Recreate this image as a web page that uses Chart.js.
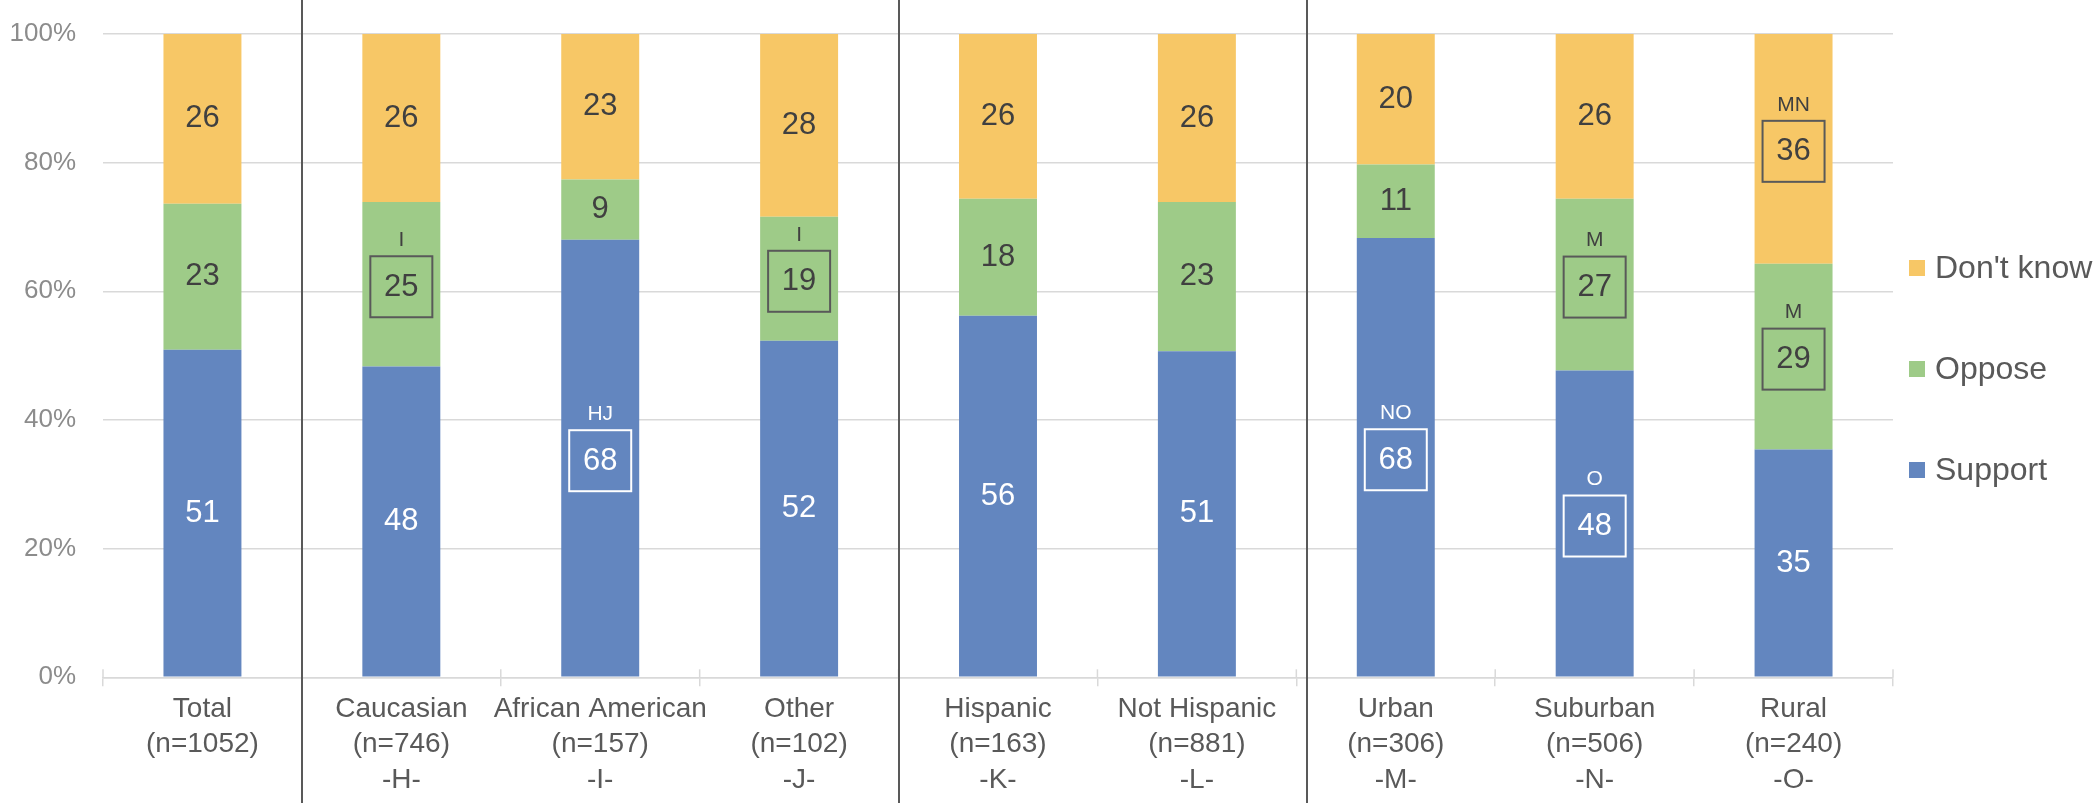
<!DOCTYPE html>
<html>
<head>
<meta charset="utf-8">
<script src="https://cdn.jsdelivr.net/npm/chart.js@4.4.1/dist/chart.umd.min.js"></script>
<style>
  html, body { margin: 0; padding: 0; background: #fff; }
</style>
</head>
<body>
<canvas id="surveyChart" width="2100" height="803"></canvas>
<script>
// categories (multi-line x labels)
const categories = [
    ['Total', '(n=1052)'],
    ['Caucasian', '(n=746)', '-H-'],
    ['African American', '(n=157)', '-I-'],
    ['Other', '(n=102)', '-J-'],
    ['Hispanic', '(n=163)', '-K-'],
    ['Not Hispanic', '(n=881)', '-L-'],
    ['Urban', '(n=306)', '-M-'],
    ['Suburban', '(n=506)', '-N-'],
    ['Rural', '(n=240)', '-O-']
];

// segment shares (%)
const support  = [50.9, 48.3, 68.0, 52.3, 56.2, 50.7, 68.3, 47.7, 35.4];
const oppose   = [22.7, 25.6,  9.4, 19.3, 18.2, 23.2, 11.4, 26.7, 28.9];
const dontKnow = [26.4, 26.1, 22.6, 28.4, 25.6, 26.1, 20.3, 25.6, 35.7];

// printed labels
const supportLabels  = [51, 48, 68, 52, 56, 51, 68, 48, 35];
const opposeLabels   = [23, 25, 9, 19, 18, 23, 11, 27, 29];
const dontKnowLabels = [26, 26, 23, 28, 26, 26, 20, 26, 36];

// significance letters (boxed values)
const supportSig  = ['', '', 'HJ', '', '', '', 'NO', 'O', ''];
const opposeSig   = ['', 'I', '', 'I', '', '', '', 'M', 'M'];
const dontKnowSig = ['', '', '', '', '', '', '', '', 'MN'];

const yTicks = [0, 20, 40, 60, 80, 100];

const FONT = '"Liberation Sans", Arial, sans-serif';

// value labels inside the segments, with boxes where a letter is given
const segmentLabels = {
    id: 'segmentLabels',
    afterDatasetsDraw(chart) {
        const ctx = chart.ctx;
        chart.data.datasets.forEach((ds, di) => {
            const meta = chart.getDatasetMeta(di);
            meta.data.forEach((bar, i) => {
                const cy = (bar.y + bar.base) / 2;
                const sig = ds.sigLetters[i];
                ctx.save();
                ctx.fillStyle = ds.labelColor;
                ctx.strokeStyle = ds.boxColor;
                ctx.textAlign = 'center';
                ctx.textBaseline = 'middle';
                if (sig) {
                    const by = cy + 2;
                    ctx.lineWidth = 2;
                    ctx.strokeRect(bar.x - 31, by - 30, 62, 61);
                    ctx.font = '31px ' + FONT;
                    ctx.fillText(ds.valueLabels[i], bar.x, by + 1);
                    ctx.font = '21px ' + FONT;
                    ctx.fillText(sig, bar.x, by - 46);
                } else {
                    ctx.font = '31px ' + FONT;
                    ctx.fillText(ds.valueLabels[i], bar.x, cy);
                }
                ctx.restore();
            });
        });
    }
};

// vertical group separators between category blocks + short ticks above the axis
const groupLines = {
    id: 'groupLines',
    afterDraw(chart) {
        const ctx = chart.ctx;
        const x = chart.scales.x;
        const area = chart.chartArea;
        ctx.save();
        ctx.strokeStyle = '#d9d9d9';
        ctx.lineWidth = 1.5;
        for (let i = 0; i <= chart.data.labels.length; i++) {
            const px = x.getPixelForValue(i - 0.5);
            ctx.beginPath();
            ctx.moveTo(px, area.bottom - 8);
            ctx.lineTo(px, area.bottom);
            ctx.stroke();
        }
        ctx.restore();

        [[0, 0], [3, 0], [5, 11]].forEach(([i, dx]) => {
            const px = Math.round(x.getPixelForValue(i + 0.5) + dx);
            ctx.save();
            ctx.strokeStyle = '#595959';
            ctx.lineWidth = 2;
            ctx.beginPath();
            ctx.moveTo(px, 0);
            ctx.lineTo(px, chart.height);
            ctx.stroke();
            ctx.restore();
        });
    }
};

// legend on the right, top item = last dataset
const sideLegend = {
    id: 'sideLegend',
    afterDraw(chart) {
        const ctx = chart.ctx;
        const area = chart.chartArea;
        const items = chart.data.datasets.slice().reverse();
        items.forEach((ds, k) => {
            const y = area.top + 234 + k * 101;
            ctx.save();
            ctx.fillStyle = ds.backgroundColor;
            ctx.fillRect(area.right + 16, y - 8, 16, 16);
            ctx.fillStyle = '#595959';
            ctx.font = '32px ' + FONT;
            ctx.textBaseline = 'middle';
            ctx.fillText(ds.label, area.right + 42, y + 1);
            ctx.restore();
        });
    }
};

const ctx = document.getElementById('surveyChart').getContext('2d');
const surveyChart = new Chart(ctx, {
    type: 'bar',
    data: {
        labels: categories,
        datasets: [
            {
                label: 'Support',
                data: support,
                backgroundColor: '#6386bf',
                valueLabels: supportLabels,
                sigLetters: supportSig,
                labelColor: '#ffffff',
                boxColor: '#ffffff'
            },
            {
                label: 'Oppose',
                data: oppose,
                backgroundColor: '#9ecb88',
                valueLabels: opposeLabels,
                sigLetters: opposeSig,
                labelColor: '#404040',
                boxColor: '#595959'
            },
            {
                label: "Don't know",
                data: dontKnow,
                backgroundColor: '#f7c766',
                valueLabels: dontKnowLabels,
                sigLetters: dontKnowSig,
                labelColor: '#404040',
                boxColor: '#595959'
            }
        ]
    },
    options: {
        responsive: false,
        animation: false,
        devicePixelRatio: 1,
        categoryPercentage: 1,
        barPercentage: 0.392,
        layout: {
            padding: { left: 8, right: 207, top: 34, bottom: 0 }
        },
        plugins: {
            legend: { display: false },
            tooltip: { enabled: false }
        },
        scales: {
            x: {
                stacked: true,
                grid: {
                    drawOnChartArea: false,
                    tickLength: 9,
                    color: '#d9d9d9',
                    lineWidth: 1.5
                },
                border: { color: '#d9d9d9', width: 1.5 },
                ticks: {
                    color: '#595959',
                    padding: 5,
                    maxRotation: 0,
                    autoSkip: false,
                    font: { family: FONT, size: 28, lineHeight: 1.27 }
                }
            },
            y: {
                stacked: true,
                min: 0,
                max: 100,
                afterBuildTicks: axis => {
                    axis.ticks = yTicks.map(v => ({ value: v }));
                },
                afterFit: axis => {
                    axis.width = 95; // plot area starts at x=103
                    axis.paddingTop = 0;
                    axis.paddingBottom = 0;
                },
                grid: {
                    color: '#d9d9d9',
                    lineWidth: 1.5,
                    drawTicks: false
                },
                border: { display: false },
                ticks: {
                    color: '#8c8c8c',
                    padding: 27,
                    font: { family: FONT, size: 26 },
                    callback: v => v + '%'
                }
            }
        }
    },
    plugins: [segmentLabels, groupLines, sideLegend]
});
</script>
</body>
</html>
